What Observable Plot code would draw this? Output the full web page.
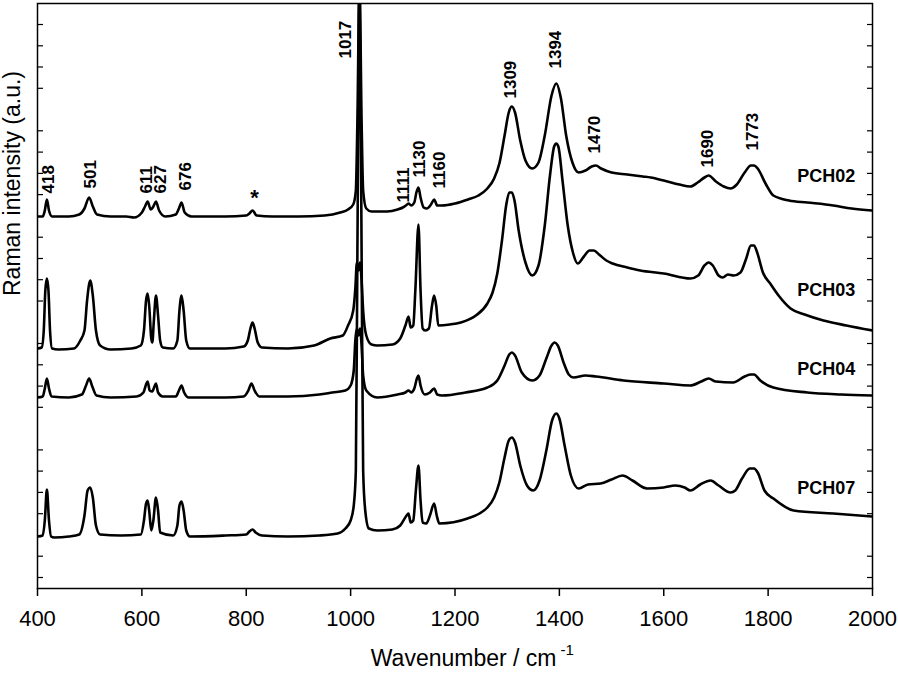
<!DOCTYPE html>
<html><head><meta charset="utf-8">
<script src="https://cdn.jsdelivr.net/npm/d3@7"></script>
<script src="https://cdn.jsdelivr.net/npm/@observablehq/plot@0.6"></script>
<style>body{margin:0;background:#fff;}</style>
</head><body><div id="chart"></div>
<script>
// Raman spectra (intensity in arbitrary units, traces stacked with offsets)
const seriesNames = ["PCH02", "PCH03", "PCH04", "PCH07"];

const pch02Wn = [400,410,414,418,422,428,460,480,490,499,506,514,540,570,585,600,606,611,617,622,627,633,645,665,671,676,682,695,760,800,806,812,820,850,900,950,980,995,1005,1010,1013,1017,1021,1024,1030,1040,1070,1090,1100,1106,1111,1116,1122,1126,1130,1134,1140,1146,1154,1160,1166,1175,1200,1225,1245,1262,1275,1285,1295,1303,1309,1315,1325,1335,1348,1360,1372,1385,1394,1403,1413,1425,1437,1450,1462,1470,1480,1500,1530,1560,1575,1600,1630,1651,1665,1678,1686,1700,1715,1728,1740,1755,1767,1773,1780,1795,1810,1840,1875,1925,1960,2000];
const pch02Int = [372,372,378,389,378,372,372,374,380,391,382,374,372,372,371,376,382,387,379,382,387,378,372,374,380,386,376,372,372,373,375,378,373,372,372,373,376,379,384,398,468,608,468,398,380,377,377,379,381,383,385,383,386,396,401,391,381,380,384,389,383,383,385,389,393,400,410,425,453,476,482,476,448,428,420,426,453,493,505,490,453,426,416,418,422,423,420,416,414,412,411,408,404,402,406,411,413,407,402,400,404,416,423,423,420,405,393,388,386,383,380,378];

const pch03Wn = [400,408,412,415,418,421,424,428,440,470,482,490,495,501,506,512,520,540,580,598,604,608,611,614,618,620,623,627,631,635,640,660,668,672,676,680,685,692,760,795,803,808,812,816,822,830,880,930,961,985,995,1005,1009,1012,1015,1018,1021,1024,1030,1040,1051,1080,1095,1105,1111,1115,1120,1124,1130,1134,1138,1143,1150,1156,1160,1164,1168,1190,1211,1240,1262,1272,1281,1290,1298,1304,1309,1314,1322,1335,1348,1360,1372,1382,1390,1394,1398,1406,1416,1426,1435,1447,1458,1466,1476,1490,1502,1530,1555,1600,1651,1666,1678,1686,1694,1705,1713,1723,1734,1747,1758,1767,1773,1779,1790,1804,1820,1843,1870,1906,1950,2000];
const pch03Int = [240,241,258,298,310,298,258,240,239,240,248,258,288,308,293,258,243,239,240,243,258,288,295,283,250,246,268,293,273,248,241,240,248,278,293,278,248,240,240,242,248,260,266,260,246,241,240,243,250,253,263,278,300,326,318,326,308,278,253,244,243,244,250,263,272,261,263,298,364,298,260,258,260,283,293,283,263,264,266,273,285,296,315,348,383,396,396,388,358,326,313,323,363,413,442,445,442,408,363,336,325,332,338,338,334,328,325,321,318,315,310,313,323,326,323,313,311,314,313,316,330,343,343,336,316,305,293,280,274,268,263,258];

const pch04Wn = [400,410,414,418,422,427,460,485,493,499,505,513,540,590,603,608,611,615,620,624,627,631,640,665,671,676,681,690,760,795,804,810,816,825,880,940,965,990,1000,1006,1009,1012,1015,1018,1021,1024,1030,1051,1090,1105,1111,1116,1122,1127,1130,1134,1142,1152,1160,1166,1175,1220,1262,1281,1295,1304,1309,1315,1328,1348,1362,1375,1385,1391,1397,1408,1418,1427,1450,1470,1523,1600,1651,1672,1686,1700,1733,1755,1767,1773,1785,1810,1875,1940,2000];
const pch04Int = [191,192,200,210,200,192,191,194,203,210,202,193,191,192,196,204,207,198,197,202,205,196,192,192,198,203,196,191,191,192,198,205,198,192,192,194,196,198,203,218,248,260,253,260,243,213,198,191,194,196,198,196,200,210,213,203,194,196,200,194,193,196,201,208,223,234,236,233,216,208,213,230,243,246,243,226,214,211,213,212,208,205,203,207,210,207,206,212,214,214,208,201,196,194,193];

const pch07Wn = [400,410,414,418,422,426,432,460,480,490,496,501,506,512,520,560,598,604,608,611,614,618,622,627,631,635,660,668,672,676,680,685,692,760,800,806,812,818,830,880,940,975,990,1000,1006,1010,1013,1017,1021,1024,1028,1035,1051,1080,1095,1106,1111,1115,1120,1125,1130,1134,1138,1145,1152,1160,1165,1170,1224,1262,1275,1285,1295,1303,1309,1315,1325,1338,1350,1362,1375,1386,1394,1400,1410,1422,1437,1455,1479,1500,1521,1540,1568,1600,1622,1640,1651,1670,1690,1705,1728,1737,1750,1765,1773,1780,1793,1810,1849,1925,2000];
const pch07Int = [52,53,68,99,68,52,51,52,54,73,98,101,91,63,54,53,54,68,85,88,78,58,68,91,78,56,53,63,83,87,78,58,52,53,54,57,59,56,53,52,53,55,60,68,83,118,338,608,338,118,78,60,58,59,63,72,75,66,68,98,123,88,66,65,73,85,73,65,70,81,91,106,131,148,151,146,123,103,98,108,138,168,175,170,143,113,100,104,105,109,113,108,100,101,103,101,98,104,108,103,96,98,110,120,120,116,98,90,78,75,72];

// x axis ticks
const xTicks = [400, 600, 800, 1000, 1200, 1400, 1600, 1800, 2000];
// unlabeled y ticks (inner)
const yTicks = [11, 32.3, 74.8, 96.1, 117.4, 138.6, 181.2, 202.4, 223.7, 245, 287.5, 308.8, 330, 351.3, 393.9, 415.1, 436.4, 457.7, 500.2, 521.5, 542.7, 564];

// peak annotations: label, wavenumber position, intensity at label base
const peakLabels = ["418","501","611","627","676","1017","1111","1130","1160","1309","1394","1470","1690","1773"];
const peakLabelWn = [421,502,609,636,684,990,1102,1132,1170,1306,1393,1467,1684,1770];
const peakLabelInt = [395,400,395,395,398,530,386,411,400,490,520,435,421,438];
// asterisk marker
const starWn = [816];
const starInt = [391];
// series label positions
const seriesLabelWn = [1967,1967,1967,1967];
const seriesLabelInt = [412,298,219,100];

const wnArrays = [pch02Wn, pch03Wn, pch04Wn, pch07Wn];
const intArrays = [pch02Int, pch03Int, pch04Int, pch07Int];
const spectra = seriesNames.flatMap((s, i) => wnArrays[i].map((w, j) => ({series: s, wn: w, int: intArrays[i][j]})));
const peaks = peakLabels.map((t, i) => ({t, wn: peakLabelWn[i], int: peakLabelInt[i]}));
const stars = starWn.map((w, i) => ({wn: w, int: starInt[i]}));
const sLabels = seriesNames.map((s, i) => ({s, wn: seriesLabelWn[i], int: seriesLabelInt[i]}));

const font = "'Liberation Sans', Arial, Helvetica, sans-serif";

const chart = Plot.plot({
  width: 898,
  height: 673,
  marginLeft: 37,
  marginRight: 26,
  marginTop: 3,
  marginBottom: 85,
  style: {fontFamily: font, color: "black", background: "white"},
  x: {domain: [400, 2000]},
  y: {domain: [0, 585]},
  marks: [
    Plot.line(spectra, {x: "wn", y: "int", z: "series", curve: "monotone-x", stroke: "black", strokeWidth: 2.6, strokeLinejoin: "round", clip: true}),
    Plot.frame({stroke: "black", strokeWidth: 1.5}),
    Plot.axisX(xTicks, {anchor: "bottom", tickSize: 8, tickPadding: 14, fontSize: 22, tickFormat: "d", label: null, strokeWidth: 1.5}),
    Plot.axisY(yTicks, {anchor: "left", tickSize: -6, tickFormat: () => "", label: null, strokeWidth: 1.2}),
    Plot.axisY(yTicks, {anchor: "right", tickSize: -6, tickFormat: () => "", label: null, strokeWidth: 1.2}),
    Plot.text(peaks, {x: "wn", y: "int", text: "t", rotate: -90, textAnchor: "start", lineAnchor: "middle", fontSize: 17, fontWeight: "bold", fill: "black"}),
    Plot.text(stars, {x: "wn", y: "int", text: () => "*", fontSize: 22, fontWeight: "bold", lineAnchor: "middle", fill: "black"}),
    Plot.text(sLabels, {x: "wn", y: "int", text: "s", textAnchor: "end", lineAnchor: "middle", fontSize: 18, fontWeight: "bold", fill: "black"}),
    Plot.text(["Raman intensity (a.u.)"], {frameAnchor: "left", rotate: -90, dx: -25, lineAnchor: "middle", fontSize: 23, fill: "black"}),
    Plot.text(["Wavenumber / cm"], {frameAnchor: "bottom", textAnchor: "end", dx: 101.5, dy: 70, lineAnchor: "middle", fontSize: 23, fill: "black"}),
    Plot.text(["-1"], {frameAnchor: "bottom", textAnchor: "start", dx: 105.5, dy: 62, lineAnchor: "middle", fontSize: 15, fill: "black"})
  ]
});
document.getElementById("chart").appendChild(chart);
</script>
</body></html>
